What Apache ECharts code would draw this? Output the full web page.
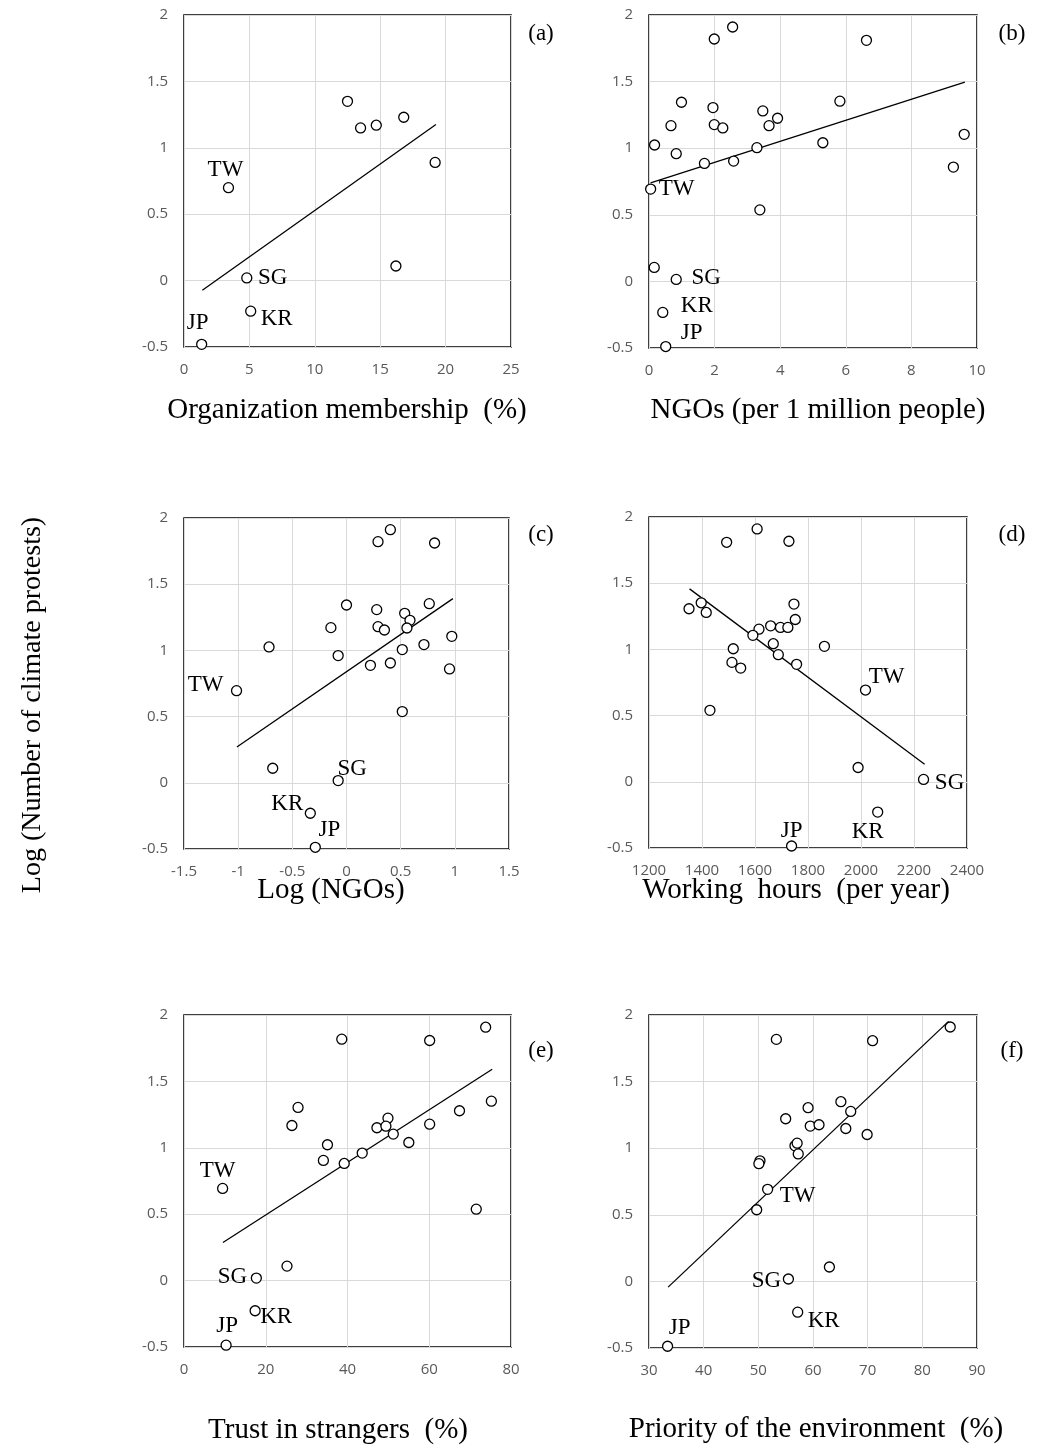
<!DOCTYPE html>
<html><head><meta charset="utf-8">
<script src="https://cdn.jsdelivr.net/npm/echarts@6/dist/echarts.min.js"></script>
<style>html,body{margin:0;padding:0;background:#fff}#c{width:1040px;height:1445px}</style>
</head><body><div id="c"></div>
<script>
// ---------- DATA ----------
// (a) Organization membership (%)
const aX = [12.5, 13.5, 14.7, 16.8, 19.2, 16.2, 3.4, 4.8, 5.1, 1.35];
const aY = [1.35, 1.15, 1.17, 1.23, 0.89, 0.11, 0.70, 0.02, -0.23, -0.48];
const aN = ['', '', '', '', '', '', 'TW', 'SG', 'KR', 'JP'];
const aTrendX = [1.4, 19.26];
const aTrendY = [-0.073, 1.176];

// (b) NGOs (per 1 million people)
const bX = [2.55, 1.99, 6.63, 0.99, 5.82, 1.95, 3.47, 3.92, 0.67, 1.99, 2.25, 3.66, 9.61, 0.17, 5.30, 3.29, 0.83, 1.69, 2.58, 9.28, 0.05, 3.38, 0.16, 0.83, 0.42, 0.51];
const bY = [1.91, 1.82, 1.81, 1.345, 1.353, 1.305, 1.28, 1.225, 1.169, 1.177, 1.152, 1.169, 1.104, 1.024, 1.041, 1.004, 0.959, 0.886, 0.903, 0.858, 0.693, 0.537, 0.105, 0.015, -0.233, -0.489];
const bN = ['', '', '', '', '', '', '', '', '', '', '', '', '', '', '', '', '', '', '', '', 'TW', '', '', 'SG', 'KR', 'JP'];
const bTrendX = [0.05, 9.63];
const bTrendY = [0.740, 1.496];

// (c) Log (NGOs)
const cX = [0.405, 0.291, 0.813, 0.0, 0.764, 0.279, 0.537, 0.586, -0.144, 0.291, 0.350, 0.558, 0.972, -0.715, 0.715, 0.515, -0.077, 0.221, 0.405, 0.951, -1.015, 0.515, -0.681, -0.077, -0.334, -0.288];
const cY = [1.912, 1.821, 1.811, 1.343, 1.353, 1.308, 1.280, 1.227, 1.172, 1.179, 1.154, 1.169, 1.106, 1.026, 1.044, 1.006, 0.961, 0.887, 0.905, 0.860, 0.696, 0.538, 0.110, 0.017, -0.230, -0.487];
const cN = ['', '', '', '', '', '', '', '', '', '', '', '', '', '', '', '', '', '', '', '', 'TW', '', '', 'SG', 'KR', 'JP'];
const cTrendX = [-1.012, 0.982];
const cTrendY = [0.271, 1.391];

// (d) Working hours (per year)
const dX = [1608, 1493, 1728, 1351, 1397, 1416, 1747, 1752, 1615, 1659, 1696, 1724, 1592, 1669, 1862, 1518, 1688, 1513, 1546, 1757, 2017, 1430, 1989, 2236, 2063, 1738];
const dY = [1.910, 1.809, 1.817, 1.307, 1.352, 1.279, 1.342, 1.226, 1.153, 1.178, 1.166, 1.166, 1.106, 1.043, 1.023, 1.005, 0.960, 0.902, 0.859, 0.887, 0.693, 0.540, 0.108, 0.018, -0.229, -0.485];
const dN = ['', '', '', '', '', '', '', '', '', '', '', '', '', '', '', '', '', '', '', '', 'TW', '', '', 'SG', 'KR', 'JP'];
const dTrendX = [1353, 2240];
const dTrendY = [1.457, 0.133];

// (e) Trust in strangers (%)
const eX = [73.8, 38.6, 60.1, 75.2, 27.9, 67.4, 49.9, 26.4, 47.2, 49.4, 60.1, 51.2, 35.1, 55.0, 34.1, 43.6, 39.2, 9.45, 71.5, 25.2, 17.7, 17.4, 10.3];
const eY = [1.908, 1.818, 1.808, 1.351, 1.304, 1.279, 1.223, 1.168, 1.151, 1.163, 1.178, 1.103, 1.023, 1.040, 0.905, 0.960, 0.882, 0.694, 0.538, 0.109, 0.019, -0.227, -0.486];
const eN = ['', '', '', '', '', '', '', '', '', '', '', '', '', '', '', '', '', 'TW', '', '', 'SG', 'KR', 'JP'];
const eTrendX = [9.53, 75.4];
const eTrendY = [0.287, 1.592];

// (f) Priority of the environment (%)
const fX = [85.1, 53.3, 70.9, 65.1, 59.1, 66.9, 55.0, 59.5, 61.1, 66.0, 69.9, 56.7, 57.1, 57.3, 50.3, 50.1, 51.7, 49.7, 63.0, 55.5, 57.2, 33.4];
const fY = [1.910, 1.817, 1.807, 1.349, 1.304, 1.276, 1.221, 1.166, 1.176, 1.148, 1.103, 1.018, 1.038, 0.957, 0.905, 0.884, 0.691, 0.538, 0.108, 0.018, -0.231, -0.487];
const fN = ['', '', '', '', '', '', '', '', '', '', '', '', '', '', '', '', 'TW', '', '', 'SG', 'KR', 'JP'];
const fTrendX = [33.5, 84.8];
const fTrendY = [-0.043, 1.952];

const xTitles = ['Organization membership\u00A0 (%)', 'NGOs (per 1 million people)', 'Log (NGOs)',
                 'Working\u00A0 hours\u00A0 (per year)', 'Trust in strangers\u00A0 (%)', 'Priority of the environment\u00A0 (%)'];
const panelTags = ['(a)', '(b)', '(c)', '(d)', '(e)', '(f)'];
const yTitle = 'Log (Number of climate protests)';
const yTicks = { min: -0.5, max: 2, interval: 0.5 };

// ---------- LAYOUT / STYLE ----------
const panels = [
  { x: aX, y: aY, n: aN, tx: aTrendX, ty: aTrendY, grid: { left: 184, top: 15, width: 327, height: 332 },
    ax: { min: 0, max: 25, interval: 5 }, off: { TW: [-3, -18], SG: [26, 0], KR: [26, 8], JP: [-4, -21] },
    title: [347, 410], tag: [541, 34] },
  { x: bX, y: bY, n: bN, tx: bTrendX, ty: bTrendY, grid: { left: 649, top: 15, width: 328, height: 333 },
    ax: { min: 0, max: 10, interval: 2 }, off: { TW: [26, 0], SG: [30, -1], KR: [34, -6], JP: [26, -14] },
    title: [818, 410], tag: [1012, 34] },
  { x: cX, y: cY, n: cN, tx: cTrendX, ty: cTrendY, grid: { left: 184, top: 518, width: 325, height: 331 },
    ax: { min: -1.5, max: 1.5, interval: 0.5 }, off: { TW: [-31, -6], SG: [14, -12], KR: [-23, -9], JP: [14, -17] },
    title: [331, 890], tag: [541, 535] },
  { x: dX, y: dY, n: dN, tx: dTrendX, ty: dTrendY, grid: { left: 649, top: 517, width: 318, height: 331 },
    ax: { min: 1200, max: 2400, interval: 200 }, off: { TW: [21, -13], SG: [26, 4], KR: [-10, 20], JP: [0, -15] },
    title: [796, 890], tag: [1012, 535] },
  { x: eX, y: eY, n: eN, tx: eTrendX, ty: eTrendY, grid: { left: 184, top: 1015, width: 327, height: 332 },
    ax: { min: 0, max: 80, interval: 20 }, off: { TW: [-5, -17], SG: [-24, -1], KR: [21, 6], JP: [1, -19] },
    title: [338, 1430], tag: [541, 1051] },
  { x: fX, y: fY, n: fN, tx: fTrendX, ty: fTrendY, grid: { left: 649, top: 1015, width: 328, height: 333 },
    ax: { min: 30, max: 90, interval: 10 }, off: { TW: [30, 7], SG: [-22, 2], KR: [26, 9], JP: [12, -18] },
    title: [816, 1429], tag: [1012, 1051] }
];

const SERIF = '"Liberation Serif", "Times New Roman", serif';
const SANS = '"Open Sans", "Liberation Sans", sans-serif';
const tickLabel = { color: '#595959', fontFamily: SANS, fontSize: 15, formatter: v => String(v) };
const splitLine = { show: true, lineStyle: { color: '#d9d9d9', width: 1 } };

const option = { animation: false, backgroundColor: '#fff', grid: [], xAxis: [], yAxis: [], series: [], graphic: [] };

panels.forEach((p, i) => {
  option.grid.push(Object.assign({ show: true, borderColor: '#000', borderWidth: 1.5, backgroundColor: 'transparent', containLabel: false }, p.grid));
  option.xAxis.push({ type: 'value', gridIndex: i, min: p.ax.min, max: p.ax.max, interval: p.ax.interval,
    axisLine: { show: false }, axisTick: { show: false }, splitLine: splitLine,
    axisLabel: Object.assign({ margin: 15 }, tickLabel) });
  option.yAxis.push({ type: 'value', gridIndex: i, min: yTicks.min, max: yTicks.max, interval: yTicks.interval,
    axisLine: { show: false }, axisTick: { show: false }, splitLine: splitLine,
    axisLabel: Object.assign({ margin: 16 }, tickLabel) });
  option.series.push({ type: 'line', xAxisIndex: i, yAxisIndex: i, symbol: 'none', z: 2,
    lineStyle: { color: '#000', width: 1.3 }, data: p.tx.map((v, k) => [v, p.ty[k]]) });
  option.series.push({ type: 'scatter', xAxisIndex: i, yAxisIndex: i, symbol: 'circle', symbolSize: 10, z: 3,
    itemStyle: { color: '#fff', borderColor: '#000', borderWidth: 1.3, opacity: 1 },
    data: p.x.map((v, k) => {
      const d = { value: [v, p.y[k]], name: p.n[k] };
      if (p.n[k]) {
        d.label = { show: true, position: 'inside', offset: p.off[p.n[k]], formatter: p.n[k],
          color: '#000', fontFamily: SERIF, fontSize: 23 };
      }
      return d;
    }) });
  option.graphic.push({ type: 'text', x: p.title[0], y: p.title[1],
    style: { text: xTitles[i], fill: '#000', font: '29px ' + SERIF, textAlign: 'center', textVerticalAlign: 'middle' } });
  option.graphic.push({ type: 'text', x: p.tag[0], y: p.tag[1],
    style: { text: panelTags[i], fill: '#000', font: '23px ' + SERIF, textAlign: 'center', textVerticalAlign: 'middle' } });
});
option.graphic.push({ type: 'text', x: 33, y: 705, rotation: Math.PI / 2,
  style: { text: yTitle, fill: '#000', font: '28px ' + SERIF, textAlign: 'center', textVerticalAlign: 'middle' } });

const chart = echarts.init(document.getElementById('c'), null, { renderer: 'canvas' });
chart.setOption(option);
</script>
</body></html>
